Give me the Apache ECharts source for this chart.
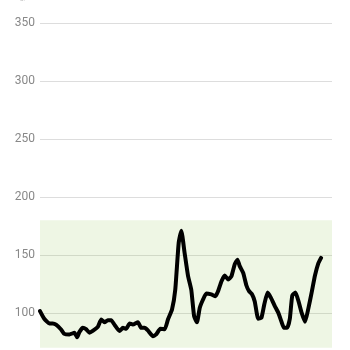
<!DOCTYPE html>
<html><head><meta charset="utf-8">
<script src="https://cdn.jsdelivr.net/npm/echarts@6/dist/echarts.min.js"></script>
<style>html,body{margin:0;padding:0;background:#fff;overflow:hidden}#c{width:350px;height:350px}</style>
</head><body><div id="c"></div>
<script>
// time of reading, minutes since start of day
const minutes = [0,21,46,63,79,104,120,145,170,183,194,211,227,244,260,285,302,318,334,351,367,392,409,425,442,458,483,499,516,532,557,573,593,615,631,651,667,684,697,713,730,746,760,774,788,804,820,845,865,878,895,911,928,944,961,974,985,1002,1018,1031,1046,1059,1076,1092,1106,1122,1139,1158,1175,1191,1203,1219,1232,1244,1260,1277,1290,1307,1323,1340,1356,1372,1386];
// glucose, mg/dL
const glucose = [101.6,95,91,91,90,85.8,82,81.5,83,79,83.5,87.2,86,83,84.5,88,94.4,92,93.8,93.8,90,84.5,87.2,86.4,91,90,92,87.2,87.2,85,80,81.5,86.4,86,94.4,103,120,160.5,171,152,132,120,97.3,92,104.5,111.6,116.8,116,114.5,118.8,127.4,132.3,128.8,131.7,142.4,146,140.4,134.6,123.7,118.8,116,110,95,95.9,107.3,117.6,113,106,100.3,92.4,87.2,87.2,95,115,117.6,108.8,100.3,92.4,103.6,118,132.3,142.6,147.5];
const yTicks = [100,150,200,250,300,350];
const targetRange = [70,180];
const unit = 'mg/dL';

const chart = echarts.init(document.getElementById('c'));
chart.setOption({
  animation:false,
  grid:{left:40,right:18,top:23,height:348,containLabel:false,outerBoundsMode:'none'},
  xAxis:{type:'value',min:0,max:1440,show:false},
  yAxis:{type:'value',min:50,max:350,interval:50,
    name:unit,nameLocation:'end',nameGap:21,
    nameTextStyle:{color:'#bbb',fontSize:8,align:'right',padding:[0,4,0,0],fontFamily:'Roboto'},
    axisLine:{show:false},axisTick:{show:false},
    axisLabel:{color:'#888',fontSize:12,fontFamily:'Roboto',margin:5,
      formatter:v=>yTicks.includes(v)?String(v):''},
    splitLine:{lineStyle:{color:'#ddd',width:1}}},
  series:[{type:'line',data:minutes.map((m,i)=>[m,glucose[i]]),
    showSymbol:false,smooth:0.15,
    lineStyle:{color:'#000',width:4,cap:'round',join:'round'},
    markArea:{silent:true,itemStyle:{color:'rgba(139,195,74,0.15)'},
      data:[[{yAxis:targetRange[0]},{yAxis:targetRange[1]}]]}
  }]
});
</script></body></html>
